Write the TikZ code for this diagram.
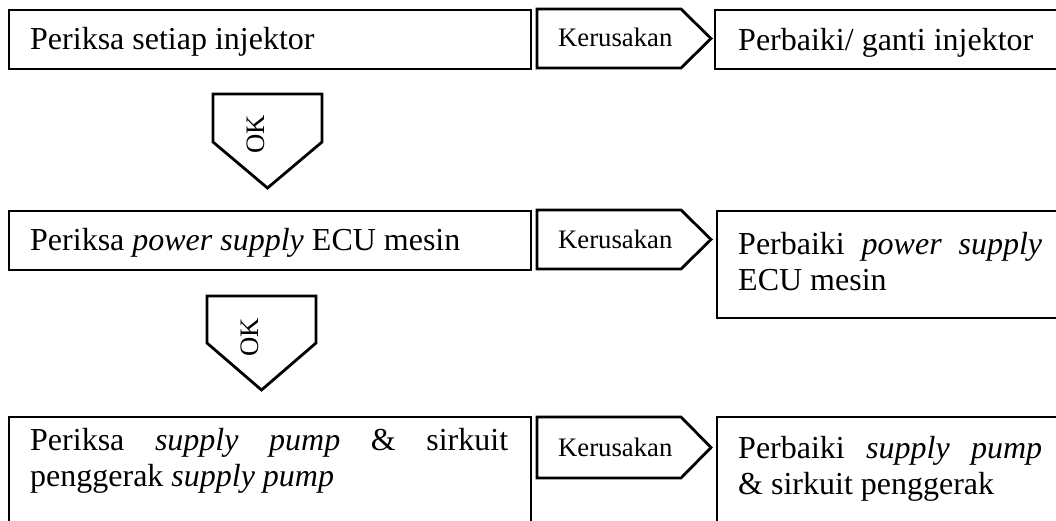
\documentclass[tikz,border=0pt]{standalone}
\usepackage{fontspec}
\setmainfont{Liberation Serif}
\begin{document}
\begin{tikzpicture}[x=1pt,y=-1pt,
  frame/.style={draw=black,line width=2.8pt,line join=miter},
  txt/.style={inner sep=0pt,anchor=base west,font=\fontsize{32}{36.8}\selectfont},
  small/.style={inner sep=0pt,font=\fontsize{26.7}{30}\selectfont}]
\useasboundingbox (0,0) rectangle (1056,521);
\clip (0,0) rectangle (1056,521);

% left column: checks
\draw[frame] (9,10) rectangle (531,69);
\draw[frame] (9,211) rectangle (531,270);
\draw[frame] (9,417) rectangle (531,545);

% right column: repairs
\draw[frame] (715,10) rectangle (1075,69);
\draw[frame] (717,211) rectangle (1075,318);
\draw[frame] (717,417) rectangle (1075,545);

% "Kerusakan" pointers
\draw[frame] (537,9) -- (681,9) -- (711,38.5) -- (681,68) -- (537,68) -- cycle;
\draw[frame] (537,210) -- (681,210) -- (711,239.5) -- (681,269) -- (537,269) -- cycle;
\draw[frame] (537,417) -- (681,417) -- (711,447.5) -- (681,478) -- (537,478) -- cycle;

% "OK" pointers
\draw[frame] (213,94) -- (322,94) -- (322,142) -- (267.5,188) -- (213,142) -- cycle;
\draw[frame] (207,296) -- (316,296) -- (316,343) -- (261.5,390) -- (207,343) -- cycle;

% texts
\node[txt] (t1) at (30,50) {Periksa setiap injektor};
\node[txt] (t2) at (30,251) {Periksa \textit{power supply} ECU mesin};
\node[txt] (t3a) at (30,450) {\makebox[478pt][s]{Periksa \textit{supply} \textit{pump} \& sirkuit}};
\node[txt] (t3b) at (30,486) {penggerak \textit{supply pump}};

\node[txt] (r1) at (738,51) {Perbaiki/ ganti injektor};
\node[txt] (r2a) at (738,254) {\makebox[304pt][s]{Perbaiki \textit{power} \textit{supply}}};
\node[txt] (r2b) at (738,290) {ECU mesin};
\node[txt] (r3a) at (738,458) {\makebox[304pt][s]{Perbaiki \textit{supply} \textit{pump}}};
\node[txt] (r3b) at (738,494) {\& sirkuit penggerak};

\node[small,anchor=base west] (k1) at (558,47) {Kerusakan};
\node[small,anchor=base west] (k2) at (558,248) {Kerusakan};
\node[small,anchor=base west] (k3) at (558,456) {Kerusakan};

\node[small,rotate=90] (ok1) at (256,134) {OK};
\node[small,rotate=90] (ok2) at (250,337) {OK};
\end{tikzpicture}
\end{document}
